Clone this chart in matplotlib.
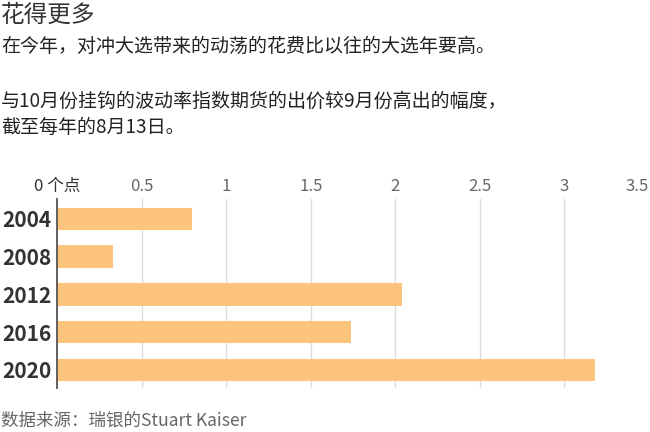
import numpy as np
import matplotlib.pyplot as plt

plt.rcParams['font.family'] = ['Noto Sans CJK SC', 'DejaVu Sans']

years = ['2004', '2008', '2012', '2016', '2020']
spread = [0.80, 0.33, 2.04, 1.74, 3.18]   # points, Oct over Sep futures
xticks = [0, 0.5, 1, 1.5, 2, 2.5, 3, 3.5]
xtick_labels = ['0 个点', '0.5', '1', '1.5', '2', '2.5', '3', '3.5']

title = '花得更多'
sub1 = '在今年，对冲大选带来的动荡的花费比以往的大选年要高。'
sub2 = '与10月份挂钩的波动率指数期货的出价较9月份高出的幅度，'
sub3 = '截至每年的8月13日。'
source = '数据来源：瑞银的Stuart Kaiser'

W, H = 650, 432
fig = plt.figure(figsize=(W / 100, H / 100), dpi=100)
ax = fig.add_axes([57 / W, 1 - 388 / H, 592 / W, 189 / H])

y = np.arange(len(years))
ax.barh(y, spread, height=0.6, color='#fcc47c', zorder=2)

ax.set_xlim(0, 3.5)
ax.set_ylim(4.48, -0.53)
ax.set_xticks(xticks)
ax.set_xticklabels(xtick_labels)
ax.xaxis.tick_top()
ax.tick_params(axis='x', length=0, pad=3, labelsize=12, colors='#666666')
labs = ax.get_xticklabels()
for i, lab in enumerate(labs):
    if i == 0:
        lab.set_color('#333333')
    else:
        lab.set_fontweight('light')
labs[-1].set_horizontalalignment('right')   # keep last label inside the figure
ax.set_yticks(y)
ax.set_yticklabels(years, fontweight='bold', fontsize=15, color='#333333')
ax.tick_params(axis='y', length=0, pad=4)
ax.grid(axis='x', color='#dddddd', lw=1, zorder=0)
for s in ['top', 'right', 'bottom']:
    ax.spines[s].set_visible(False)
ax.spines['left'].set_color('#555555')
ax.spines['left'].set_linewidth(1.3)
ax.spines['left'].set_zorder(3)

fig.text(1 / W, 1 - 15 / H, title, fontsize=17, va='center', color='#333333')
fig.text(1 / W, 1 - 46 / H, sub1, fontsize=13.7, va='center', color='#222222')
fig.text(1 / W, 1 - 101 / H, sub2, fontsize=13.7, va='center', color='#222222')
fig.text(1 / W, 1 - 127 / H, sub3, fontsize=13.7, va='center', color='#222222')
fig.text(1 / W, 1 - 421 / H, source, fontsize=12.6, va='center', color='#666666')

fig.savefig('out.png', dpi=100)
